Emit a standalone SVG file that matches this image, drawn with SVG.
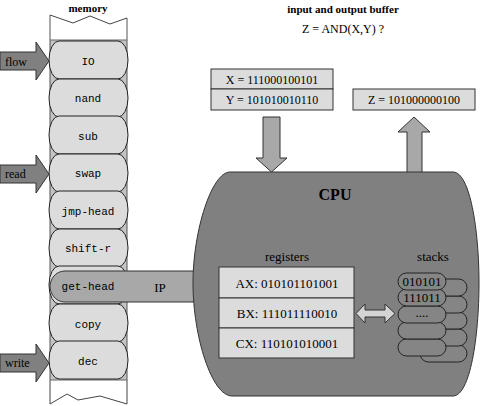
<svg xmlns="http://www.w3.org/2000/svg" width="481" height="406" viewBox="0 0 481 406">
<style>
.t{font-family:"Liberation Serif","Times New Roman",serif;fill:#000}
.b{font-weight:bold}
.m{font-family:"Liberation Mono","Courier New",monospace;font-size:11px;fill:#000}
.cell{fill:#dcdcdc;stroke:#222;stroke-width:1}
.box{fill:#dcdcdc;stroke:#333;stroke-width:1}
.dark{fill:#808080;stroke:#333;stroke-width:1}
.mid{fill:#a8a8a8;stroke:#333;stroke-width:1}
.pill{fill:#858585;stroke:#222;stroke-width:1}
</style>
<rect width="481" height="406" fill="#fff"/>

<g id="titles">
<text class="t b" x="88" y="12" font-size="11" text-anchor="middle">memory</text>
<text class="t b" x="343" y="13" font-size="11" text-anchor="middle">input and output buffer</text>
<text class="t" x="343" y="33" font-size="12" text-anchor="middle">Z = AND(X,Y) ?</text>
</g>

<g id="memory">
<rect x="50" y="40" width="77" height="340" fill="#c4c4c4"/>
<path d="M50,15 L73,23 L90,16 L110,24 L127,18" fill="none" stroke="#444"/>
<path d="M50,15 V380 M127,18 V380" fill="none" stroke="#555"/>
<path d="M50,380 V404 L67,394 L78,400 L100,396 L127,404 V380" fill="#fff" stroke="#444"/>
<line x1="50" y1="40" x2="127" y2="40" stroke="#666"/>
<line x1="50" y1="380" x2="127" y2="380" stroke="#666"/>
</g>

<g id="cell-io"><rect class="cell" x="49" y="41" width="79" height="38" rx="10" ry="19"/><text class="m" x="88" y="65" text-anchor="middle">IO</text></g>
<g id="cell-nand"><rect class="cell" x="49" y="79" width="79" height="38" rx="10" ry="19"/><text class="m" x="88" y="102" text-anchor="middle">nand</text></g>
<g id="cell-sub"><rect class="cell" x="49" y="116" width="79" height="38" rx="10" ry="19"/><text class="m" x="88" y="140" text-anchor="middle">sub</text></g>
<g id="cell-swap"><rect class="cell" x="49" y="154" width="79" height="38" rx="10" ry="19"/><text class="m" x="88" y="177" text-anchor="middle">swap</text></g>
<g id="cell-jmp-head"><rect class="cell" x="49" y="191" width="79" height="38" rx="10" ry="19"/><text class="m" x="88" y="215" text-anchor="middle">jmp-head</text></g>
<g id="cell-shift-r"><rect class="cell" x="49" y="229" width="79" height="38" rx="10" ry="19"/><text class="m" x="88" y="252" text-anchor="middle">shift-r</text></g>
<g id="cell-get-head-bg"><rect class="cell" x="49" y="266" width="79" height="38" rx="10" ry="19"/></g>
<g id="cell-copy"><rect class="cell" x="49" y="304" width="79" height="38" rx="10" ry="19"/><text class="m" x="88" y="328" text-anchor="middle">copy</text></g>
<g id="cell-dec"><rect class="cell" x="49" y="341" width="79" height="38" rx="10" ry="19"/><text class="m" x="88" y="365" text-anchor="middle">dec</text></g>

<g id="ip">
<path class="mid" d="M65,271 H205 V302 H65 C55,302 50,293 50,286.5 C50,280 55,271 65,271 Z"/>
<text class="m" x="88" y="290" text-anchor="middle">get-head</text>
<text class="t" x="160" y="292" font-size="13" text-anchor="middle">IP</text>
</g>

<g id="io-buffer-in">
<rect class="box" x="211" y="69" width="122" height="20"/>
<rect class="box" x="211" y="89" width="122" height="21"/>
<text class="t" x="272" y="84" font-size="12" text-anchor="middle">X = 111000100101</text>
<text class="t" x="272" y="104" font-size="12" text-anchor="middle">Y = 101010010110</text>
</g>
<g id="io-buffer-out">
<rect class="box" x="353" y="89" width="122" height="21"/>
<text class="t" x="414" y="104" font-size="12" text-anchor="middle">Z = 101000000100</text>
</g>

<g id="connectors">
<path class="dark" d="M0,52 H36 V42 L49,61 L36,80 V70 H0 Z"/>
<path class="dark" d="M0,165 H36 V155 L49,174 L36,193 V183 H0 Z"/>
<path class="dark" d="M0,354 H36 V344 L49,363 L36,382 V372 H0 Z"/>
<path class="mid" d="M263,117 H280 V158 H287 L271.5,172 L256,158 H263 Z"/>
<path class="mid" d="M407,174 V132 H398 L414,117 L430,132 H422 V174 Z"/>
</g>
<g id="labels">
<text class="t" x="5" y="66" font-size="12">flow</text>
<text class="t" x="5" y="178" font-size="12">read</text>
<text class="t" x="5" y="367" font-size="12">write</text>
</g>

<g id="cpu">
<path class="dark" d="M230,172 H453 C470,172 479,230 479,283 C479,337 470,396 453,396 H232 C212,396 193,337 193,283 C193,230 212,172 230,172 Z"/>
<text class="t b" x="335" y="200" font-size="16" text-anchor="middle">CPU</text>
</g>

<g id="registers">
<text class="t" x="287" y="261" font-size="13" text-anchor="middle">registers</text>
<rect class="box" x="219" y="267" width="135" height="31"/>
<rect class="box" x="219" y="298" width="135" height="30"/>
<rect class="box" x="219" y="328" width="135" height="30"/>
<text class="t" x="287" y="288" font-size="13" text-anchor="middle">AX: 010101101001</text>
<text class="t" x="287" y="318" font-size="13" text-anchor="middle">BX: 111011110010</text>
<text class="t" x="287" y="348" font-size="13" text-anchor="middle">CX: 110101010001</text>
</g>

<g id="bus">
<path d="M356,313.5 L365,304 V310 H385 V304 L395,313.5 L385,323 V317 H365 V323 Z" fill="#d4d4d4" stroke="#333"/>
</g>

<g id="stacks">
<text class="t" x="433" y="261" font-size="13" text-anchor="middle">stacks</text>
<rect class="pill" x="420" y="345" width="47" height="17" rx="8.5"/>
<rect class="pill" x="420" y="329" width="47" height="17" rx="8.5"/>
<rect class="pill" x="420" y="312" width="47" height="17" rx="8.5"/>
<rect class="pill" x="420" y="296" width="47" height="17" rx="8.5"/>
<rect class="pill" x="420" y="279" width="47" height="17" rx="8.5"/>
<rect class="pill" x="398" y="339" width="48" height="17" rx="8.5"/>
<rect class="pill" x="398" y="322" width="48" height="17" rx="8.5"/>
<rect class="pill" x="398" y="306" width="48" height="17" rx="8.5"/>
<rect class="pill" x="398" y="289" width="48" height="17" rx="8.5"/>
<rect class="pill" x="398" y="273" width="48" height="17" rx="8.5"/>
<text class="t" x="422" y="286" font-size="13" text-anchor="middle">010101</text>
<text class="t" x="422" y="302" font-size="13" text-anchor="middle">111011</text>
<text class="t" x="422" y="317" font-size="13" text-anchor="middle">....</text>
</g>
</svg>
